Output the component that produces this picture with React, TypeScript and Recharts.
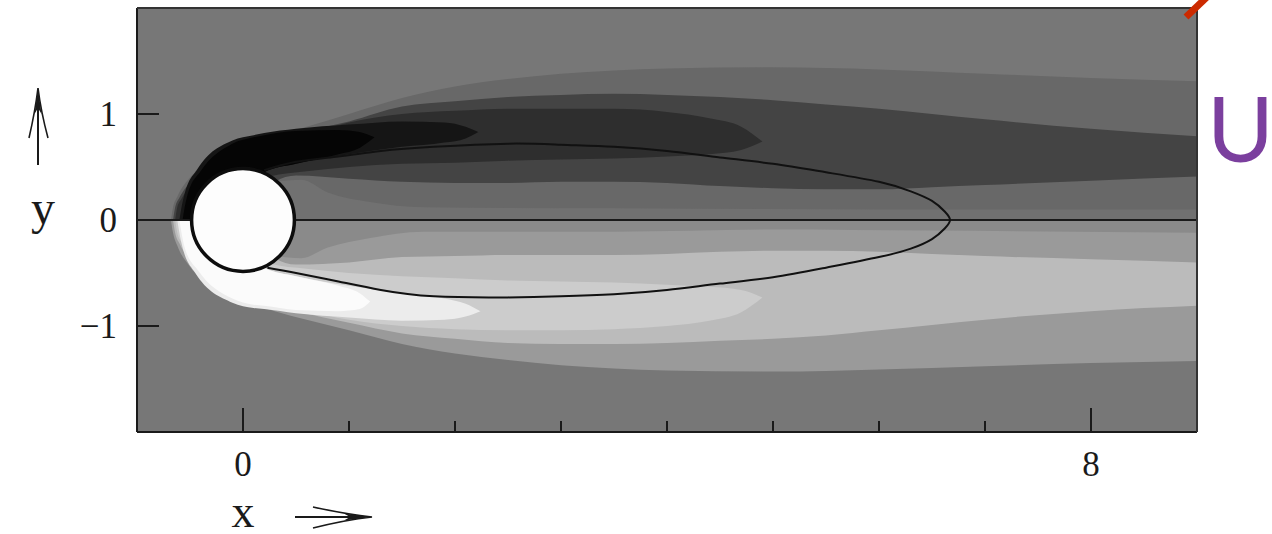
import React from 'react';
import { ComposedChart, Area, Line, Scatter, XAxis, YAxis, CartesianGrid } from 'recharts';

// Each band: [x, lower edge, upper edge] in cylinder-diameter units
type Band = [number, number, number][];

const X_DOMAIN: [number, number] = [-1, 9];
const Y_DOMAIN: [number, number] = [-2, 2];
const X_TICKS = [0, 1, 2, 3, 4, 5, 6, 7, 8];
const X_LABELLED = [0, 8];
const Y_TICKS = [-1, 0, 1];
const CYLINDER_RADIUS = 0.485;

// upper half (dark side), outermost first
const UPPER_1: Band = [
  [-0.68, 0, 0], [-0.66, 0, 0.12], [-0.62, 0, 0.22], [-0.5, 0, 0.4], [-0.3, 0, 0.56],
  [0, 0, 0.7], [0.3, 0, 0.8], [0.6, 0, 0.88], [1, 0, 1.0], [1.5, 0, 1.15], [2, 0, 1.26],
  [2.5, 0, 1.33], [3, 0, 1.38], [3.5, 0, 1.41], [4, 0, 1.43], [5, 0, 1.44], [6, 0, 1.42],
  [7, 0, 1.38], [8, 0, 1.34], [9, 0, 1.31],
];
const UPPER_0: Band = [
  [0.3, 0, 0.36], [0.55, 0, 0.38], [0.8, 0, 0.26], [1.2, 0, 0.17], [1.7, 0, 0.12],
  [3.5, 0, 0.11], [6, 0, 0.1], [9, 0, 0.1],
];
const UPPER_2: Band = [
  [-0.66, 0, 0], [-0.64, 0, 0.12], [-0.6, 0, 0.21], [-0.48, 0, 0.37], [-0.3, 0, 0.53],
  [0, 0, 0.67], [0.25, 0, 0.76], [0.3, 0.36, 0.77], [0.5, 0.42, 0.82], [1, 0.39, 0.93],
  [1.5, 0.36, 1.07], [2, 0.35, 1.12], [2.5, 0.35, 1.16], [3, 0.36, 1.18], [3.5, 0.36, 1.19],
  [4, 0.35, 1.18], [4.5, 0.32, 1.16], [5, 0.3, 1.13], [5.5, 0.29, 1.09], [6, 0.29, 1.05],
  [6.5, 0.31, 1.0], [7, 0.33, 0.95], [8, 0.37, 0.86], [9, 0.41, 0.79],
];
const UPPER_3: Band = [
  [-0.64, 0, 0], [-0.62, 0, 0.12], [-0.58, 0, 0.2], [-0.46, 0, 0.36], [-0.3, 0, 0.5],
  [0, 0, 0.64], [0.15, 0, 0.7], [0.25, 0.41, 0.74], [0.6, 0.46, 0.82], [1, 0.5, 0.92],
  [1.5, 0.53, 1.0], [2, 0.54, 1.03], [2.5, 0.56, 1.05], [3, 0.57, 1.05], [3.5, 0.58, 1.05],
  [4, 0.6, 1.02], [4.4, 0.62, 0.96], [4.7, 0.66, 0.88], [4.9, 0.74, 0.74],
];
const UPPER_4: Band = [
  [-0.6, 0, 0], [-0.58, 0, 0.12], [-0.55, 0, 0.25], [-0.43, 0, 0.48], [-0.1, 0, 0.75],
  [0.1, 0, 0.8], [0.2, 0.45, 0.82], [0.5, 0.53, 0.86], [1, 0.62, 0.9], [1.5, 0.69, 0.93],
  [1.9, 0.73, 0.92], [2.1, 0.77, 0.88], [2.22, 0.83, 0.83],
];
const UPPER_5: Band = [
  [-0.57, 0, 0], [-0.55, 0, 0.12], [-0.52, 0, 0.25], [-0.4, 0, 0.46], [-0.1, 0, 0.72],
  [0.1, 0, 0.78], [0.2, 0.45, 0.8], [0.5, 0.53, 0.84], [0.9, 0.62, 0.85], [1.1, 0.68, 0.83],
  [1.24, 0.78, 0.78],
];

// lower half (light side), outermost first
const LOWER_1: Band = [
  [-0.68, 0, 0], [-0.66, -0.12, 0], [-0.62, -0.24, 0], [-0.5, -0.44, 0], [-0.3, -0.62, 0],
  [0, -0.76, 0], [0.3, -0.86, 0], [0.6, -0.94, 0], [1, -1.04, 0], [1.5, -1.17, 0],
  [2, -1.26, 0], [2.5, -1.32, 0], [3, -1.37, 0], [3.5, -1.4, 0], [4, -1.42, 0],
  [5, -1.43, 0], [6, -1.41, 0], [7, -1.38, 0], [8, -1.35, 0], [9, -1.33, 0],
];
const LOWER_0: Band = [
  [0.3, -0.34, 0], [0.55, -0.36, 0], [0.8, -0.26, 0], [1.2, -0.17, 0], [1.7, -0.11, 0],
  [3.5, -0.11, 0], [5, -0.09, 0], [6.5, -0.1, 0], [9, -0.12, 0],
];
const LOWER_2: Band = [
  [-0.66, 0, 0], [-0.64, -0.12, 0], [-0.6, -0.22, 0], [-0.48, -0.4, 0], [-0.3, -0.58, 0],
  [0, -0.72, 0], [0.25, -0.8, 0], [0.3, -0.81, -0.36], [0.5, -0.86, -0.42], [1, -0.97, -0.4],
  [1.5, -1.07, -0.35], [2, -1.12, -0.34], [2.5, -1.16, -0.33], [3, -1.17, -0.33],
  [3.5, -1.17, -0.33], [4, -1.16, -0.32], [4.5, -1.14, -0.3], [5, -1.12, -0.29],
  [5.5, -1.09, -0.29], [6, -1.04, -0.3], [6.5, -0.99, -0.32], [7, -0.94, -0.34],
  [8, -0.86, -0.37], [9, -0.81, -0.4],
];
const LOWER_3: Band = [
  [-0.64, 0, 0], [-0.62, -0.12, 0], [-0.58, -0.21, 0], [-0.46, -0.38, 0], [-0.3, -0.54, 0],
  [0, -0.68, 0], [0.15, -0.73, 0], [0.25, -0.77, -0.41], [0.6, -0.86, -0.46], [1, -0.94, -0.5],
  [1.5, -1.0, -0.53], [2, -1.03, -0.55], [2.5, -1.04, -0.57], [3, -1.04, -0.58],
  [3.5, -1.03, -0.59], [4, -1.0, -0.61], [4.4, -0.95, -0.63], [4.7, -0.87, -0.66],
  [4.9, -0.73, -0.73],
];
const LOWER_4: Band = [
  [-0.62, 0, 0], [-0.6, -0.12, 0], [-0.57, -0.26, 0], [-0.45, -0.5, 0], [-0.1, -0.78, 0],
  [0.1, -0.83, 0], [0.2, -0.84, -0.45], [0.5, -0.88, -0.53], [1, -0.92, -0.62],
  [1.5, -0.95, -0.69], [1.9, -0.94, -0.74], [2.1, -0.91, -0.79], [2.24, -0.86, -0.86],
];
const LOWER_5: Band = [
  [-0.6, 0, 0], [-0.58, -0.12, 0], [-0.55, -0.26, 0], [-0.42, -0.48, 0], [-0.1, -0.74, 0],
  [0.1, -0.8, 0], [0.2, -0.81, -0.45], [0.5, -0.85, -0.53], [0.9, -0.86, -0.62],
  [1.1, -0.84, -0.69], [1.2, -0.77, -0.77],
];

// closed streamline bounding the recirculation bubble, traced clockwise
const SEPARATRIX: [number, number][] = [
  [0.2, 0.47], [0.5, 0.55], [0.9, 0.6], [1.3, 0.65], [1.8, 0.69], [2.5, 0.72], [3, 0.71],
  [3.5, 0.69], [4, 0.65], [4.5, 0.59], [5, 0.53], [5.5, 0.45], [6, 0.36], [6.3, 0.27],
  [6.5, 0.18], [6.62, 0.08], [6.67, 0], [6.62, -0.08], [6.5, -0.18], [6.3, -0.27],
  [6, -0.35], [5.5, -0.45], [5, -0.54], [4.5, -0.6], [4, -0.66], [3.5, -0.7], [3, -0.72],
  [2.5, -0.73], [1.8, -0.72], [1.3, -0.66], [0.9, -0.58], [0.5, -0.5], [0.23, -0.45],
];
const CENTRE_LINE = [{ x: -1, y: 0 }, { x: 9, y: 0 }];
const CYLINDER = [{ x: 0, y: 0 }];

const BANDS: { fill: string; band: Band }[] = [
  { fill: '#686868', band: UPPER_1 },
  { fill: '#717171', band: UPPER_0 },
  { fill: '#444444', band: UPPER_2 },
  { fill: '#2e2e2e', band: UPPER_3 },
  { fill: '#151515', band: UPPER_4 },
  { fill: '#050505', band: UPPER_5 },
  { fill: '#9a9a9a', band: LOWER_1 },
  { fill: '#8a8a8a', band: LOWER_0 },
  { fill: '#bbbbbb', band: LOWER_2 },
  { fill: '#cccccc', band: LOWER_3 },
  { fill: '#ececec', band: LOWER_4 },
  { fill: '#fbfbfb', band: LOWER_5 },
];

const WIDTH = 1272;
const HEIGHT = 534;
const MARGIN = { top: 8, right: 75, bottom: 42, left: 77 };
const Y_AXIS_W = 60;
const X_AXIS_H = 60;
const Y_TICK_GAP = 20;
const PLOT = {
  left: MARGIN.left + Y_AXIS_W,
  top: MARGIN.top,
  right: WIDTH - MARGIN.right,
  bottom: HEIGHT - MARGIN.bottom - X_AXIS_H,
};
const PX_PER_UNIT = (PLOT.right - PLOT.left) / (X_DOMAIN[1] - X_DOMAIN[0]);
const SERIF = '"Liberation Serif", "Times New Roman", serif';
const INK = '#1a1a1a';

const toRows = (band: Band) => band.map(([x, lo, hi]) => ({ x, y: [lo, hi] }));

function YTick(props: any) {
  const { x, y, payload } = props;
  const axisX = x + Y_TICK_GAP;
  const label = payload.value < 0 ? `\u2212${Math.abs(payload.value)}` : String(payload.value);
  return (
    <g>
      <line x1={axisX} x2={axisX + 22} y1={y} y2={y} stroke={INK} strokeWidth={2} />
      <text x={x} y={y + 12} textAnchor="end" fontFamily={SERIF} fontSize={35} fill={INK}>
        {label}
      </text>
    </g>
  );
}

function XTick(props: any) {
  const { x, y, payload } = props;
  const major = X_LABELLED.includes(payload.value);
  return (
    <g>
      <line x1={x} x2={x} y1={y} y2={y - (major ? 24 : 11)} stroke={INK} strokeWidth={2} />
      {major && (
        <text x={x} y={y + 44} textAnchor="middle" fontFamily={SERIF} fontSize={35} fill={INK}>
          {payload.value}
        </text>
      )}
    </g>
  );
}

function Cylinder(props: any) {
  return (
    <circle
      cx={props.cx}
      cy={props.cy}
      r={CYLINDER_RADIUS * PX_PER_UNIT}
      fill="#fdfdfd"
      stroke="#0d0d0d"
      strokeWidth={3.5}
    />
  );
}

export default function App() {
  return (
    <div style={{ position: 'absolute', left: 0, top: 0, width: WIDTH, height: HEIGHT, background: '#fff' }}>
      <ComposedChart width={WIDTH} height={HEIGHT} margin={MARGIN}>
        <CartesianGrid horizontal={false} vertical={false} fill="#777777" fillOpacity={1} />
        <XAxis
          dataKey="x"
          type="number"
          domain={X_DOMAIN}
          ticks={X_TICKS}
          allowDataOverflow
          height={X_AXIS_H}
          tickSize={0}
          tickMargin={0}
          tickLine={false}
          tick={<XTick />}
          axisLine={{ stroke: INK, strokeWidth: 2 }}
        />
        <YAxis
          dataKey="y"
          type="number"
          domain={Y_DOMAIN}
          ticks={Y_TICKS}
          allowDataOverflow
          width={Y_AXIS_W}
          tickSize={0}
          tickMargin={Y_TICK_GAP}
          tickLine={false}
          tick={<YTick />}
          axisLine={{ stroke: INK, strokeWidth: 2 }}
        />
        {BANDS.map(({ fill, band }, i) => (
          <Area
            key={i}
            data={toRows(band)}
            dataKey="y"
            type="monotone"
            stroke="none"
            fill={fill}
            fillOpacity={1}
            isAnimationActive={false}
          />
        ))}
        <Line
          data={CENTRE_LINE}
          dataKey="y"
          stroke={INK}
          strokeWidth={2}
          dot={false}
          isAnimationActive={false}
        />
        <Line
          data={SEPARATRIX.map(([x, y]) => ({ x, y }))}
          dataKey="y"
          type="natural"
          stroke="#111"
          strokeWidth={2}
          dot={false}
          isAnimationActive={false}
        />
        <Scatter data={CYLINDER} dataKey="y" shape={<Cylinder />} isAnimationActive={false} />
      </ComposedChart>
      <svg
        width={WIDTH}
        height={HEIGHT}
        style={{ position: 'absolute', left: 0, top: 0, pointerEvents: 'none' }}
      >
        {/* top and right edges of the plot frame */}
        <polyline
          points={`${PLOT.left},${PLOT.top} ${PLOT.right},${PLOT.top} ${PLOT.right},${PLOT.bottom}`}
          fill="none"
          stroke="#333"
          strokeWidth={2}
        />
        {/* axis names with their arrows */}
        <line x1={38} y1={165} x2={38} y2={100} stroke={INK} strokeWidth={2} />
        <path d="M29,138 Q35,112 38,88 Q41,112 48,138" fill="none" stroke={INK} strokeWidth={1.6} />
        <path d="M38,88 L34.5,114 L38,108 L41.5,114 Z" fill={INK} />
        <text x={43} y={224} textAnchor="middle" fontFamily={SERIF} fontSize={48} fill={INK}>
          y
        </text>
        <line x1={295} y1={517} x2={360} y2={517} stroke={INK} strokeWidth={2} />
        <path d="M313,507 Q345,514 372,517 Q345,520 313,528" fill="none" stroke={INK} strokeWidth={1.6} />
        <path d="M372,517 L344,513.5 L350,517 L344,520.5 Z" fill={INK} />
        <text x={243} y={527} textAnchor="middle" fontFamily={SERIF} fontSize={46} fill={INK}>
          x
        </text>
        <line x1={1186} y1={17} x2={1208} y2={-4} stroke="#cc2a00" strokeWidth={7} />
        <text x={1207} y={162} fontFamily="Lato, 'Open Sans', sans-serif" fontSize={91} fill="#7b3f9e">
          U
        </text>
      </svg>
    </div>
  );
}
